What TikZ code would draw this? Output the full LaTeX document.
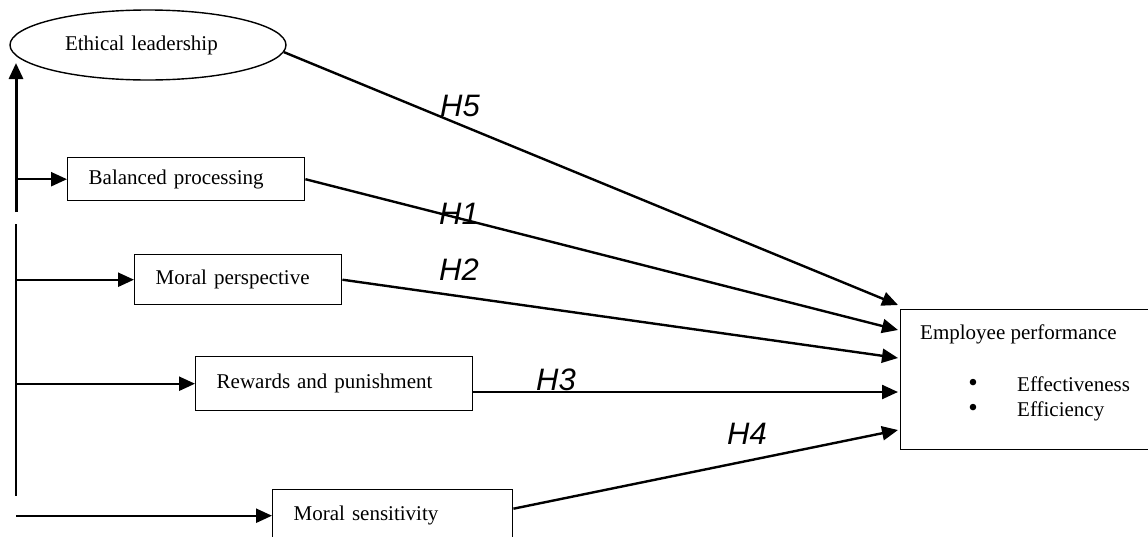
\documentclass[tikz,border=0pt]{standalone}
\usepackage{fontspec}
\setmainfont{Liberation Serif}
\newfontfamily\hfont{Liberation Sans}
\usetikzlibrary{arrows.meta,calc,shapes.geometric}
\begin{document}
\begin{tikzpicture}[x=1pt,y=-1pt,
  txt/.style={font=\fontsize{21}{25}\selectfont, inner sep=0pt},
  box/.style={draw, line width=1.4pt, anchor=north west, inner xsep=21pt, inner ysep=0pt, align=left, font=\fontsize{21}{25}\selectfont},
  tip/.style={-{Triangle[length=16pt,width=14pt]}},
  arr/.style={line width=2.4pt, tip},
  hlab/.style={font=\hfont\itshape\fontsize{31}{31}\selectfont, inner sep=0pt},
  bul/.style={inner sep=0pt, font=\fontsize{27}{27}\selectfont}]
\useasboundingbox (0,0) rectangle (1148,536);
\clip (0,0) rectangle (1148,536);

% nodes
\node[ellipse, draw, line width=1.4pt, minimum width=276pt, minimum height=70pt, txt, text width=166pt, align=left] (el) at (148,45) {Ethical leadership};
\node[box, text width=195pt, minimum height=43pt] (bp) at (67,157) {Balanced processing};
\node[box, text width=165pt, minimum height=50pt] (mp) at (134,254) {Moral perspective};
\node[box, text width=235pt, minimum height=54pt] (rw) at (195,356) {Rewards and punishment};
\node[box, text width=198pt, minimum height=52pt] (ms) at (272,489) {Moral sensitivity};
\node[draw, line width=1.4pt, anchor=north west, minimum width=260pt, minimum height=140pt, inner sep=0pt] (ep) at (900,309) {};

\node[txt, anchor=base west] (ept) at (920,339) {Employee performance};
\node[bul] (b1) at (973,385) {\textbullet};
\node[txt, anchor=base west] (e1) at (1017,391) {Effectiveness};
\node[bul] (b2) at (973,410) {\textbullet};
\node[txt, anchor=base west] (e2) at (1017,416) {Efficiency};

% trunk on the left
\coordinate (tt) at (16,63);
\coordinate (tu) at (16,212);
\coordinate (tl) at (16,224);
\coordinate (tb) at (16,496);
\draw[line width=3pt, tip] (tu) -- (tt);
\draw[line width=2.2pt] (tl) -- (tb);
\draw[arr] (bp.west -| tu) -- (bp.west);
\draw[arr] (mp.west -| tu) -- (mp.west);
\draw[arr] (rw.west -| tu) -- (rw.west);
\draw[arr] (ms.west -| tu) -- (ms.west);

% targets on employee performance
\coordinate (t5) at ($(ep.north west)+(-2,-4)$);
\coordinate (t1) at ($(ep.north west)+(-2,21)$);
\coordinate (t2) at ($(ep.north west)+(-2,49)$);
\coordinate (t3) at ($(ep.north west)+(-2,83)$);
\coordinate (t4) at ($(ep.north west)+(-2,121)$);

\draw[arr] (el.-3) -- (t5);
\draw[arr] (bp.east) -- (t1);
\draw[arr] (mp.east) -- (t2);
\draw[arr] (t3 -| rw.east) -- (t3);
\draw[arr] ($(ms.east)+(0,-7)$) -- (t4);

% hypothesis labels
\node[hlab] (h5) at (460,106) {H5};
\node[hlab] (h1) at (459,214) {H1};
\node[hlab] (h2) at (459,270) {H2};
\node[hlab] (h3) at (556,380) {H3};
\node[hlab] (h4) at (747,434) {H4};
\end{tikzpicture}
\end{document}
